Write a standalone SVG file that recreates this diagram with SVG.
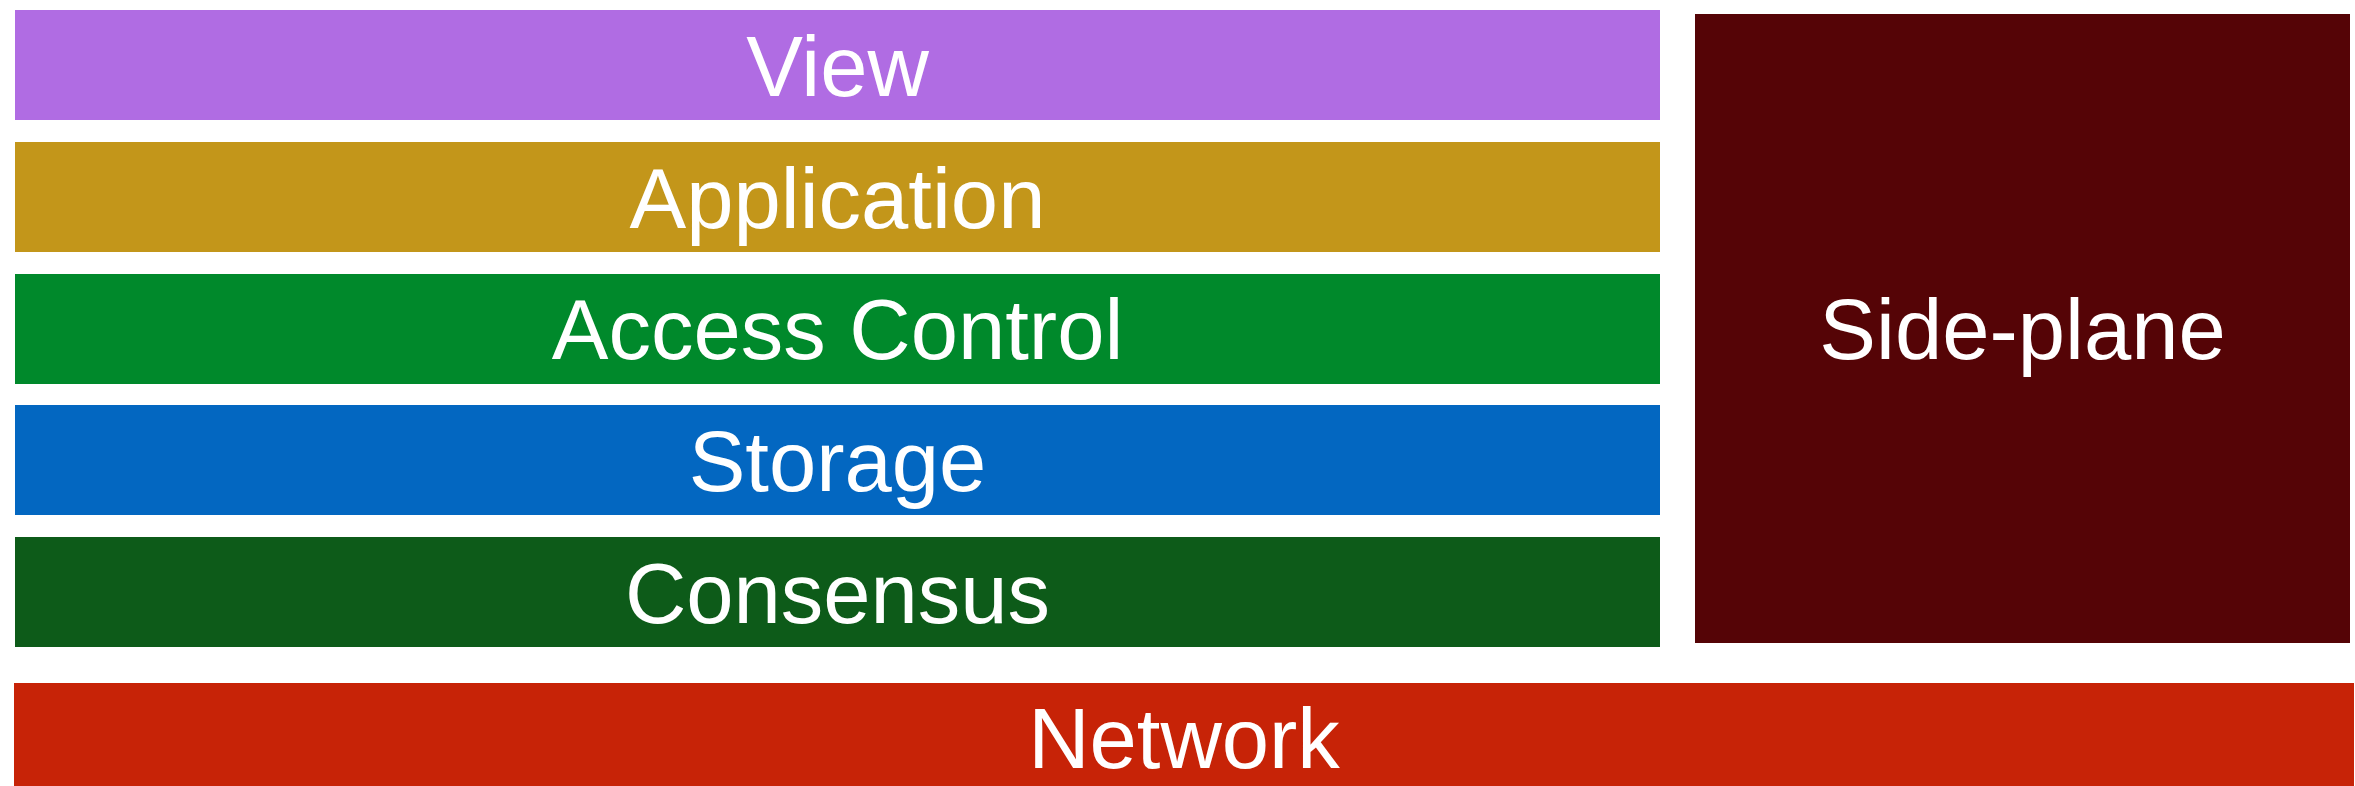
<svg xmlns="http://www.w3.org/2000/svg" width="2355" height="786" viewBox="0 0 2355 786">
<style>
text{font-family:"Liberation Sans",Arial,Helvetica,sans-serif;font-size:85px;fill:#fff;text-anchor:middle}
</style>
<rect width="2355" height="786" fill="#fff"/>
<g id="view"><rect x="15" y="10" width="1645" height="110" fill="#B06CE3"/><text x="837.5" y="96">View</text></g>
<g id="application"><rect x="15" y="142" width="1645" height="110" fill="#C3961A"/><text x="837.5" y="228">Application</text></g>
<g id="access-control"><rect x="15" y="274" width="1645" height="110" fill="#00892B"/><text x="837.5" y="359">Access Control</text></g>
<g id="storage"><rect x="15" y="405" width="1645" height="110" fill="#0367C1"/><text x="837.5" y="491">Storage</text></g>
<g id="consensus"><rect x="15" y="537" width="1645" height="110" fill="#0D5B19"/><text x="837.5" y="623">Consensus</text></g>
<g id="side-plane"><rect x="1695" y="14" width="655" height="629" fill="#550406"/><text x="2022.5" y="359">Side-plane</text></g>
<g id="network"><rect x="14" y="683" width="2340" height="110" fill="#C72307"/><text x="1184" y="768">Network</text></g>
<g id="connectors"></g>
</svg>
